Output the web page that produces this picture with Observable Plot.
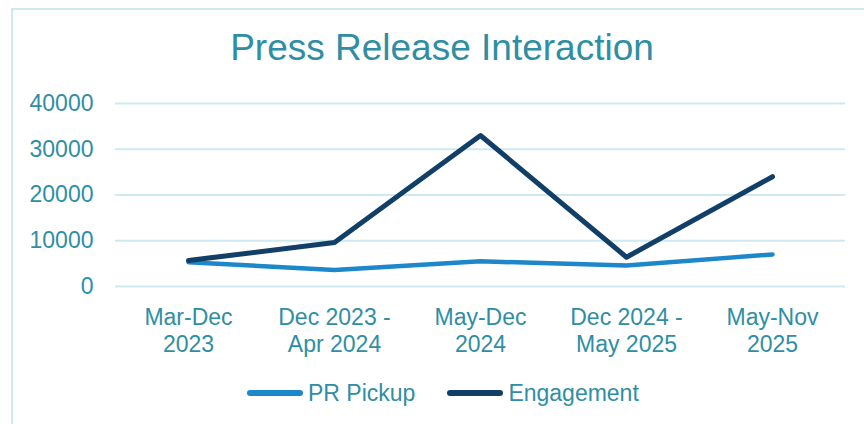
<!DOCTYPE html>
<html>
<head>
<meta charset="utf-8">
<script src="https://cdn.jsdelivr.net/npm/d3@7"></script>
<script src="https://cdn.jsdelivr.net/npm/@observablehq/plot@0.6"></script>
<style>
  html, body { margin: 0; padding: 0; background: #fff; }
  #wrap { position: relative; width: 864px; height: 424px; overflow: hidden; font-family: "Liberation Sans", Arial, sans-serif; color: #2f8ea3; }
  #frame { position: absolute; left: 11px; top: 8px; width: 900px; height: 500px; border-left: 2px solid #cfe9f3; border-top: 2px solid #cfe9f3; }
  #title { position: absolute; left: 10px; width: 864px; top: 29px; text-align: center; font-size: 37px; line-height: 37px; white-space: nowrap; }
  #chart { position: absolute; left: 0; top: 85px; }
  #legend { position: absolute; left: 247px; top: 378px; display: flex; align-items: center; font-size: 23px; line-height: 30px; white-space: nowrap; }
  .sw { display: inline-block; width: 56px; height: 6px; border-radius: 3px; margin-right: 5px; }
  .item { display: flex; align-items: center; margin-right: 32px; }
</style>
</head>
<body>
<div id="wrap">
  <div id="frame"></div>
  <div id="title">Press Release Interaction</div>
  <div id="chart"></div>
  <div id="legend"></div>
</div>
<script>
const periods = ["Mar-Dec\n2023", "Dec 2023 -\nApr 2024", "May-Dec\n2024", "Dec 2024 -\nMay 2025", "May-Nov\n2025"];
const prPickup = [5300, 3600, 5500, 4600, 7000];
const engagement = [5700, 9600, 33000, 6400, 24000];
const yTicks = [0, 10000, 20000, 30000, 40000];
const seriesNames = ["PR Pickup", "Engagement"];
const seriesColors = ["#1c87c9", "#113f67"];

const prData = periods.map((p, i) => ({period: p, value: prPickup[i]}));
const engData = periods.map((p, i) => ({period: p, value: engagement[i]}));

const chart = Plot.plot({
  width: 864,
  height: 275,
  marginTop: 18,
  marginBottom: 74,
  marginLeft: 115,
  marginRight: 19,
  style: {fontFamily: "'Liberation Sans', Arial, sans-serif", fontSize: "23px", color: "#2f8ea3", background: "transparent", overflow: "visible"},
  x: {type: "point", domain: periods, padding: 0.5, label: null},
  y: {domain: [0, 40000], label: null},
  marks: [
    Plot.ruleY(yTicks, {stroke: "#cfe9f3", strokeWidth: 2}),
    Plot.axisY(yTicks, {tickSize: 0, tickPadding: 22, tickFormat: d => String(d), fontSize: 23, fill: "#2f8ea3", label: null}),
    Plot.axisX({tickSize: 0, tickPadding: 20, fontSize: 23, lineHeight: 1.15, fill: "#2f8ea3", label: null}),
    Plot.line(prData, {x: "period", y: "value", stroke: seriesColors[0], strokeWidth: 4.5, strokeLinecap: "round"}),
    Plot.line(engData, {x: "period", y: "value", stroke: seriesColors[1], strokeWidth: 5, strokeLinecap: "round"})
  ]
});
document.getElementById("chart").appendChild(chart);

const legend = document.getElementById("legend");
seriesNames.forEach((name, i) => {
  const item = document.createElement("div");
  item.className = "item";
  const sw = document.createElement("span");
  sw.className = "sw";
  sw.style.background = seriesColors[i];
  const t = document.createElement("span");
  t.textContent = name;
  item.appendChild(sw);
  item.appendChild(t);
  legend.appendChild(item);
});
</script>
</body>
</html>
